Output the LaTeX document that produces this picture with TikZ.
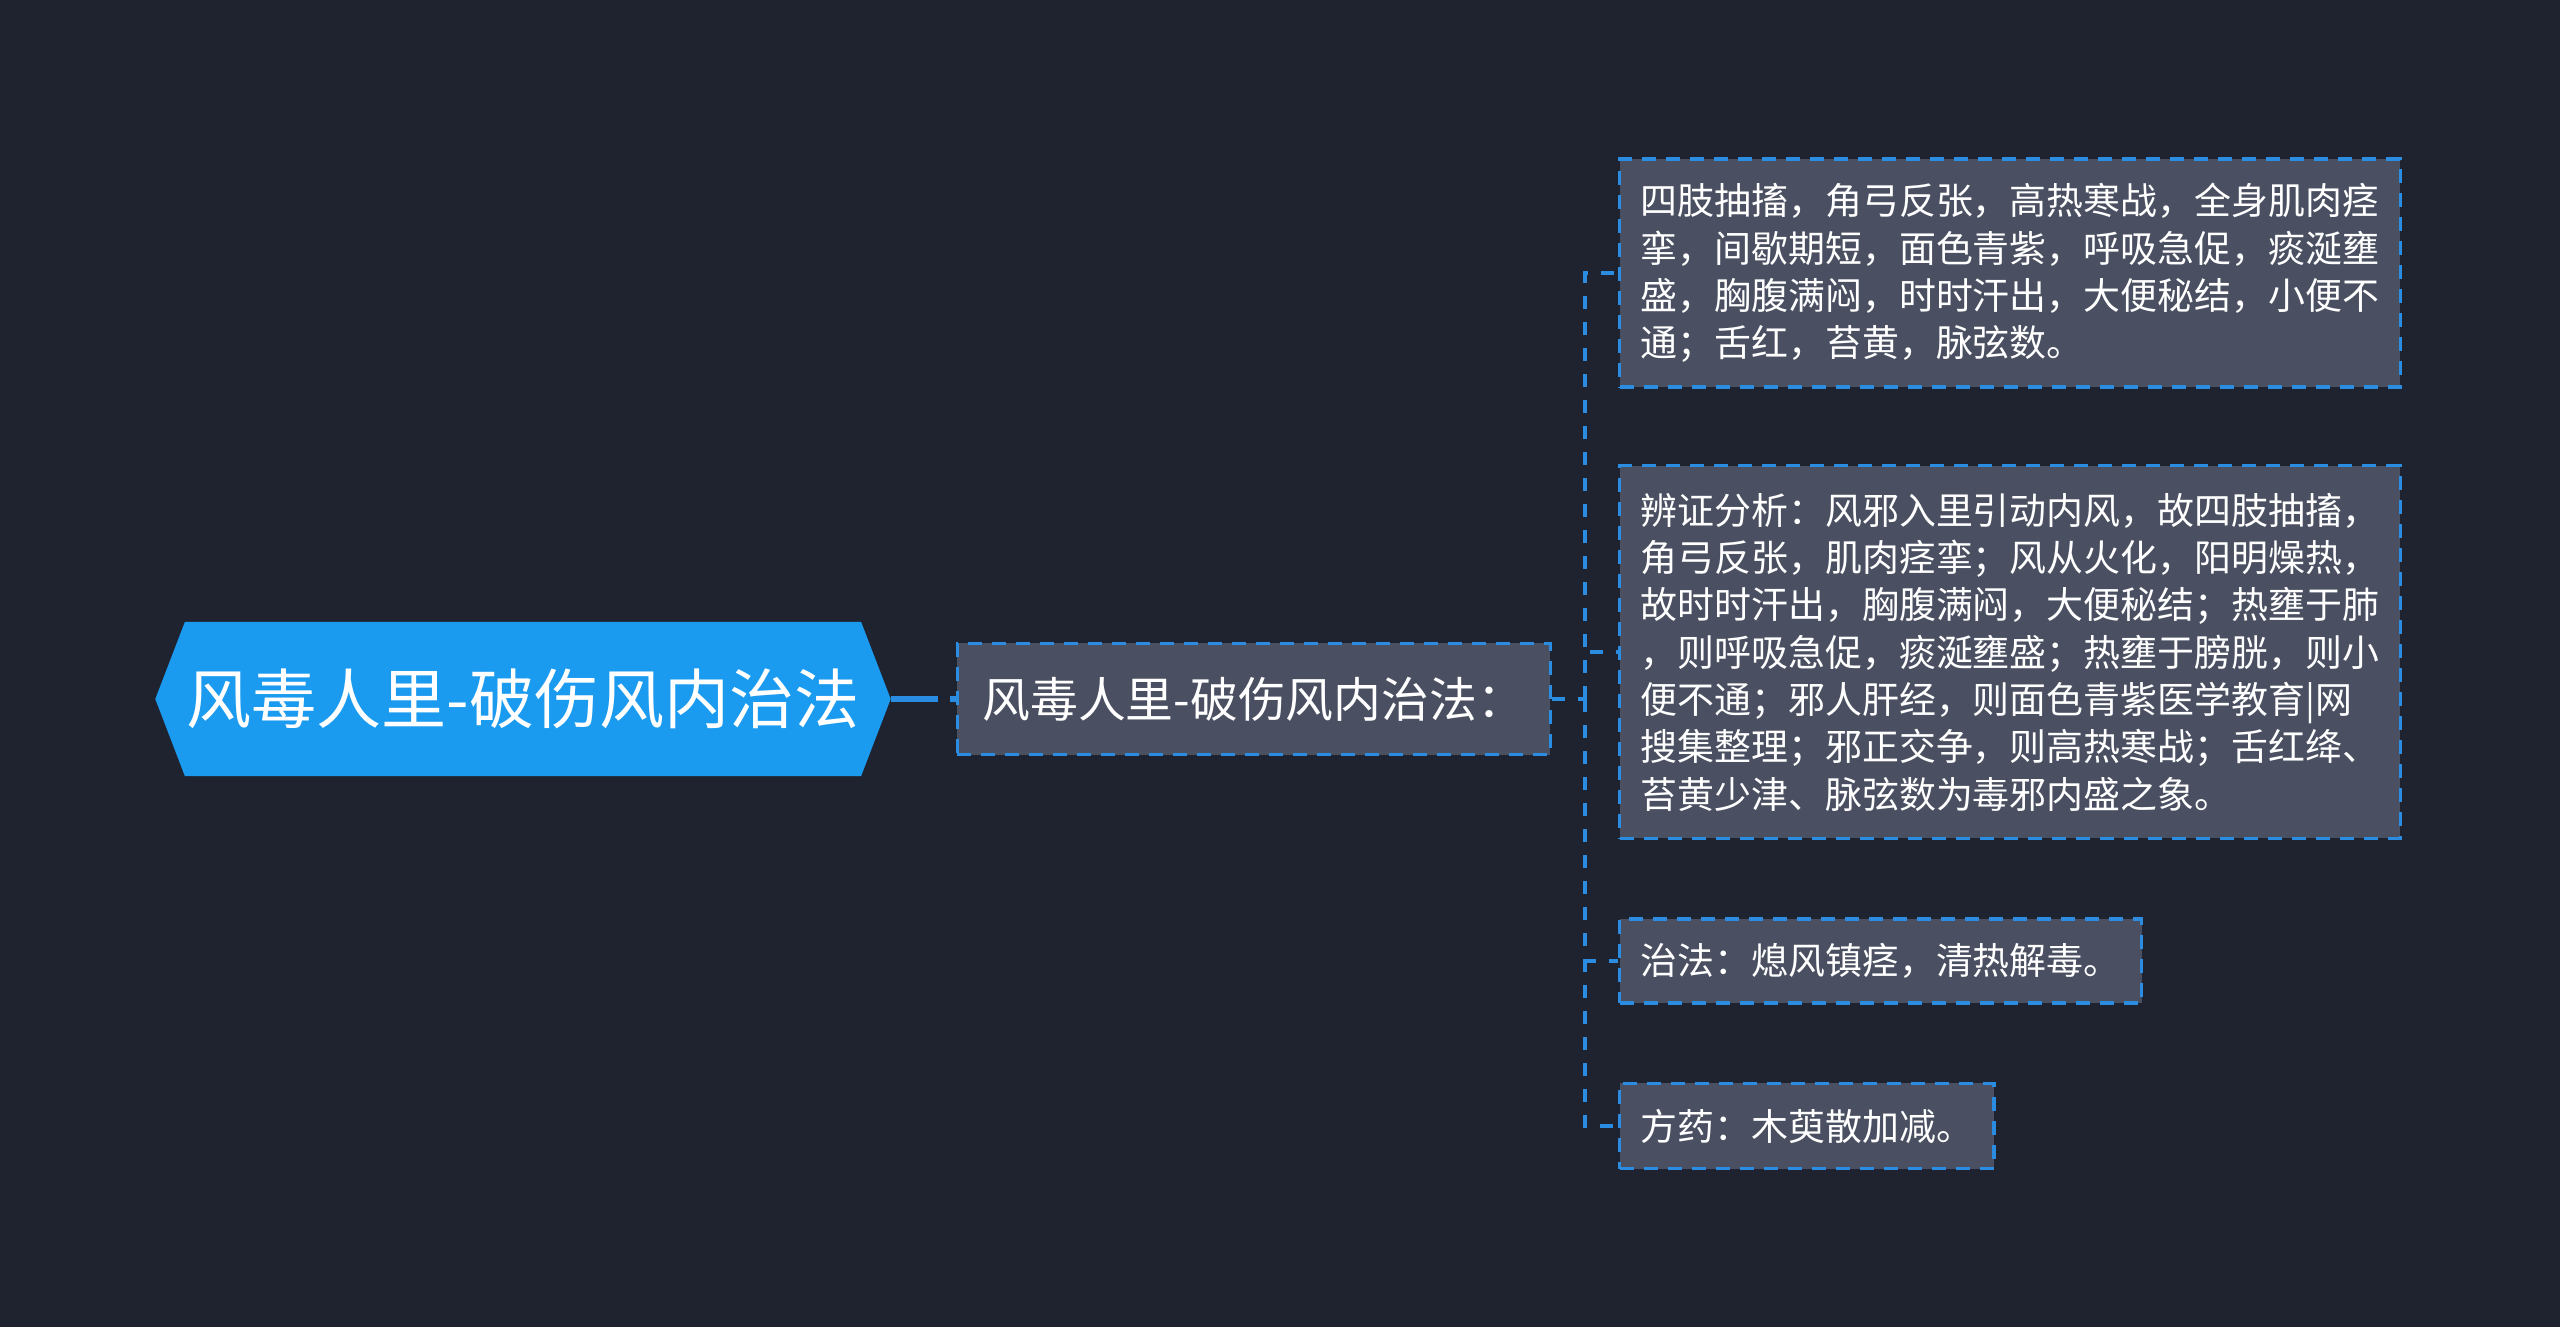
\documentclass[tikz,border=0pt]{standalone}
\usepackage{fontspec}
\setmainfont{Noto Sans CJK SC}
\usetikzlibrary{positioning,shapes.symbols}

\definecolor{bgnavy}{HTML}{1F2330}
\definecolor{rootblue}{HTML}{1A9BF0}
\definecolor{boxgray}{HTML}{4A5061}
\definecolor{dashblue}{HTML}{2A8DE1}

\begin{document}
\begin{tikzpicture}[x=0.01cm,y=-0.01cm,
  root node/.style={signal,signal to=west and east,signal pointer angle=138,
    fill=rootblue,text=white,minimum height=1.54cm,minimum width=7.35cm,
    inner sep=0pt,font=\fontsize{18.5}{22}\selectfont},
  sub node/.style={draw=dashblue,fill=boxgray,text=white,line width=0.9pt,
    dash pattern=on 0.14cm off 0.1cm,minimum width=5.93cm,minimum height=1.11cm,
    inner xsep=0.24cm,font=\fontsize{13.6}{16}\selectfont},
  leaf node/.style={draw=dashblue,fill=boxgray,text=white,line width=0.9pt,
    dash pattern=on 0.14cm off 0.1cm,anchor=west,align=left,
    inner xsep=0.21cm,font=\fontsize{10.5}{13.45}\selectfont},
  branch/.style={draw=dashblue,line width=0.9pt,dash pattern=on 0.13cm off 0.13cm}]
  \useasboundingbox[fill=bgnavy] (0,0) rectangle (2560,1327);

  \node[root node]  (root)  at (523,699) {风毒人里-破伤风内治法};
  \node[sub node]   (sub)   [right=0.64cm of root] {风毒人里-破伤风内治法：};

  \coordinate (trunk) at (1585,699);

  \node[leaf node,minimum height=2.28cm] (sign) at (1618,273)
    {四肢抽搐，角弓反张，高热寒战，全身肌肉痉\\
     挛，间歇期短，面色青紫，呼吸急促，痰涎壅\\
     盛，胸腹满闷，时时汗出，大便秘结，小便不\\
     通；舌红，苔黄，脉弦数。};
  \node[leaf node,minimum height=3.72cm] (analysis) at (1618,652)
    {辨证分析：风邪入里引动内风，故四肢抽搐，\\
     角弓反张，肌肉痉挛；风从火化，阳明燥热，\\
     故时时汗出，胸腹满闷，大便秘结；热壅于肺\\
     ，则呼吸急促，痰涎壅盛；热壅于膀胱，则小\\
     便不通；邪人肝经，则面色青紫医学教育|网\\
     搜集整理；邪正交争，则高热寒战；舌红绛、\\
     苔黄少津、脉弦数为毒邪内盛之象。};
  \node[leaf node,minimum height=0.84cm] (method) at (1618,961)
    {治法：熄风镇痉，清热解毒。};
  \node[leaf node,minimum height=0.85cm] (recipe) at (1618,1126)
    {方药：木萸散加减。};

  % connectors
  \draw[draw=dashblue,line width=1.6pt,dash pattern=on 0.46cm off 0.12cm] (root.east) -- (sub.west);
  \draw[branch] (sub.east) -- (trunk);
  \draw[branch] (trunk) |- (sign.west);
  \draw[branch] (trunk) |- (analysis.west);
  \draw[branch] (trunk) |- (method.west);
  \draw[branch] (trunk) |- (recipe.west);
\end{tikzpicture}
\end{document}
